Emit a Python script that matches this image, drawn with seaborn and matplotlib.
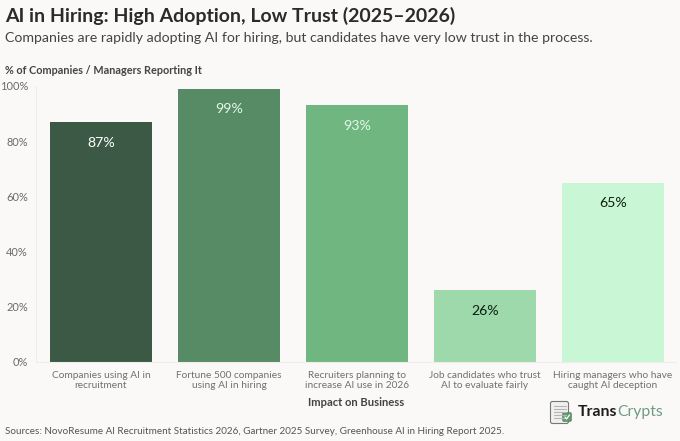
import matplotlib
matplotlib.use("Agg")
import matplotlib.pyplot as plt
from matplotlib.patches import FancyBboxPatch
import seaborn as sns
import pandas as pd

categories = ["Companies using AI in\nrecruitment", "Fortune 500 companies\nusing AI in hiring",
              "Recruiters planning to\nincrease AI use in 2026", "Job candidates who trust\nAI to evaluate fairly",
              "Hiring managers who have\ncaught AI deception"]
values = [87, 99, 93, 26, 65]
labels = ["87%", "99%", "93%", "26%", "65%"]
bar_colors = ["#3c5945", "#568b66", "#6fb680", "#9dd9ab", "#c9f7d5"]
label_colors = ["#ffffff", "#e4f7e6", "#e4f7e6", "#0d1f12", "#0d1f12"]
yticks = [0, 20, 40, 60, 80, 100]
BG = "#faf9f7"

W, H = 680, 441
sns.set_theme(style="white")
plt.rcParams['font.family'] = ['Lato', 'DejaVu Sans']
fig = plt.figure(figsize=(W / 100, H / 100), dpi=100, facecolor=BG)
ax = fig.add_axes([36.3 / W, 1 - 362 / H, (676 - 36) / W, (362 - 86) / H], facecolor=BG)

df = pd.DataFrame({"cat": categories, "val": values})
sns.barplot(data=df, x="cat", y="val", hue="cat", palette=bar_colors, legend=False,
            width=0.8, saturation=1, linewidth=0, edgecolor="none", ax=ax)
ax.set_xlim(-0.505, 4.495)
ax.set_ylim(0, 100)
ax.set_yticks(yticks)
ax.set_yticklabels([f"{t}%" for t in yticks], fontsize=7.9, color="#6a6a6a")
ax.tick_params(axis="both", length=0)
ax.tick_params(axis="x", labelsize=7.3, labelcolor="#707070", pad=6.5)
ax.tick_params(axis="y", pad=6)
ax.set_xlabel("")
ax.set_ylabel("")
for s in ["top", "right"]:
    ax.spines[s].set_visible(False)
for s in ["left", "bottom"]:
    ax.spines[s].set_color("#eeedeb")
    ax.spines[s].set_linewidth(0.8)

for p, lab, col in zip(ax.patches, labels, label_colors):
    ax.text(p.get_x() + p.get_width() / 2, p.get_height() - 7.5, lab, ha="center", va="center",
            fontsize=10.2, color=col)

def T(x, y, s, **kw):
    return fig.text(x / W, 1 - y / H, s, **kw)

T(5, 16, "AI in Hiring: High Adoption, Low Trust (2025–2026)", fontsize=14.0, fontweight="bold",
  color="#2b2b2b", va="center")
T(5, 38.5, "Companies are rapidly adopting AI for hiring, but candidates have very low trust in the process.",
  fontsize=10.15, color="#444444", va="center")
T(5, 71, "% of Companies / Managers Reporting It", fontsize=7.85, fontweight="bold", color="#444444", va="center")
T(356.5, 402, "Impact on Business", fontsize=8.1, fontweight="bold", color="#444444", va="center", ha="center")
T(5, 431, "Sources: NovoResume AI Recruitment Statistics 2026, Gartner 2025 Survey, Greenhouse AI in Hiring Report 2025.",
  fontsize=7.15, color="#555555", va="center")

# logo
ov = fig.add_axes([0, 0, 1, 1], facecolor="none")
ov.set_xlim(0, W); ov.set_ylim(H, 0); ov.axis("off")
ov.add_patch(FancyBboxPatch((551, 402), 17, 21, boxstyle="round,pad=0.5,rounding_size=2",
                            fc="#f0f0ee", ec="#777777", lw=0.8))
for yy in (406, 409, 412, 415, 418):
    ov.plot([554, 566], [yy, yy], color="#b5b5b5", lw=0.8)
ov.add_patch(FancyBboxPatch((563, 413), 8, 8, boxstyle="round,pad=0.3,rounding_size=1",
                            fc="#5f9c72", ec="#4a7d5a", lw=0.5))
ov.plot([565, 566.5, 569.5], [417, 419, 415], color="white", lw=0.9)
tr = ov.text(578, 412, "Trans", fontsize=11.3, color="#1c1c1c", va="center", fontweight="bold")
fig.canvas.draw()
bb = tr.get_window_extent()
ov.text(bb.x1 * W / fig.bbox.width, 412, "Crypts", fontsize=11.3, color="#6f9c84", va="center")

fig.savefig("out.png", dpi=100, facecolor=BG)
